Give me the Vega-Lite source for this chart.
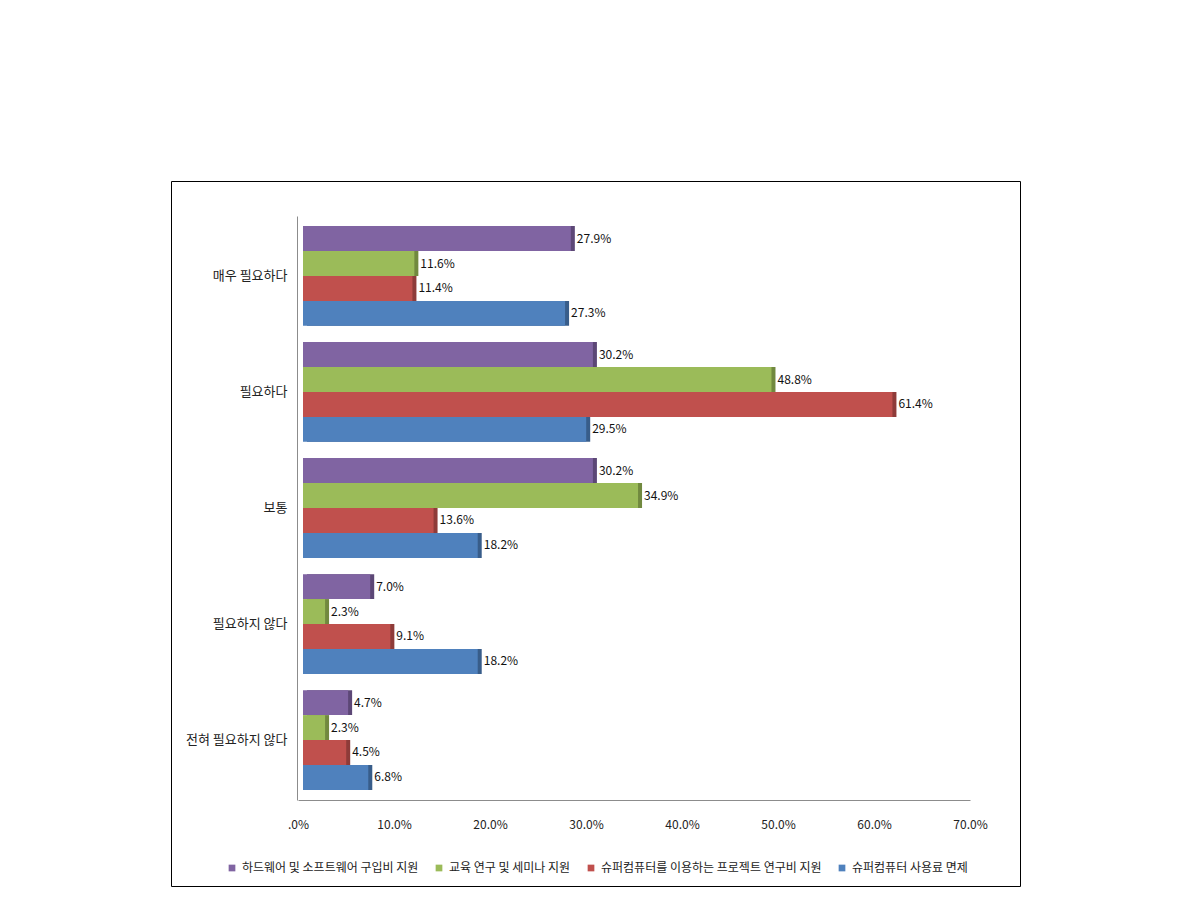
{
  "$schema": "https://vega.github.io/schema/vega-lite/v6.json",
  "width": 849,
  "height": 705,
  "autosize": {"type": "none"},
  "padding": {"left": 171, "top": 181, "right": 170, "bottom": 18},
  "background": "white",
  "config": {
    "view": {"stroke": "#000000", "strokeWidth": 1},
    "font": "Noto Sans CJK KR",
    "axis": {"labelFont": "Noto Sans CJK KR", "labelColor": "#222222", "grid": false, "ticks": false, "domainColor": "#8c8c8c", "title": null},
    "legend": {"labelFont": "Noto Sans CJK KR", "labelColor": "#222222"}
  },
  "data": {
    "values": [
      {"category": "매우 필요하다", "series": "하드웨어 및 소프트웨어 구입비 지원", "value": 27.9},
      {"category": "매우 필요하다", "series": "교육 연구 및 세미나 지원", "value": 11.6},
      {"category": "매우 필요하다", "series": "슈퍼컴퓨터를 이용하는 프로젝트 연구비 지원", "value": 11.4},
      {"category": "매우 필요하다", "series": "슈퍼컴퓨터 사용료 면제", "value": 27.3},
      {"category": "필요하다", "series": "하드웨어 및 소프트웨어 구입비 지원", "value": 30.2},
      {"category": "필요하다", "series": "교육 연구 및 세미나 지원", "value": 48.8},
      {"category": "필요하다", "series": "슈퍼컴퓨터를 이용하는 프로젝트 연구비 지원", "value": 61.4},
      {"category": "필요하다", "series": "슈퍼컴퓨터 사용료 면제", "value": 29.5},
      {"category": "보통", "series": "하드웨어 및 소프트웨어 구입비 지원", "value": 30.2},
      {"category": "보통", "series": "교육 연구 및 세미나 지원", "value": 34.9},
      {"category": "보통", "series": "슈퍼컴퓨터를 이용하는 프로젝트 연구비 지원", "value": 13.6},
      {"category": "보통", "series": "슈퍼컴퓨터 사용료 면제", "value": 18.2},
      {"category": "필요하지 않다", "series": "하드웨어 및 소프트웨어 구입비 지원", "value": 7.0},
      {"category": "필요하지 않다", "series": "교육 연구 및 세미나 지원", "value": 2.3},
      {"category": "필요하지 않다", "series": "슈퍼컴퓨터를 이용하는 프로젝트 연구비 지원", "value": 9.1},
      {"category": "필요하지 않다", "series": "슈퍼컴퓨터 사용료 면제", "value": 18.2},
      {"category": "전혀 필요하지 않다", "series": "하드웨어 및 소프트웨어 구입비 지원", "value": 4.7},
      {"category": "전혀 필요하지 않다", "series": "교육 연구 및 세미나 지원", "value": 2.3},
      {"category": "전혀 필요하지 않다", "series": "슈퍼컴퓨터를 이용하는 프로젝트 연구비 지원", "value": 4.5},
      {"category": "전혀 필요하지 않다", "series": "슈퍼컴퓨터 사용료 면제", "value": 6.8}
    ]
  },
  "transform": [
    {"calculate": "format(datum.value, '.1f') + '%'", "as": "label"}
  ],
  "encoding": {
    "y": {
      "field": "category",
      "type": "nominal",
      "sort": ["매우 필요하다", "필요하다", "보통", "필요하지 않다", "전혀 필요하지 않다"],
      "scale": {"range": [35, 619], "paddingInner": 0.14, "paddingOuter": 0.087},
      "axis": {"orient": "left", "offset": -126, "labelPadding": 10, "labelFontSize": 13}
    },
    "yOffset": {
      "field": "series",
      "type": "nominal",
      "sort": ["하드웨어 및 소프트웨어 구입비 지원", "교육 연구 및 세미나 지원", "슈퍼컴퓨터를 이용하는 프로젝트 연구비 지원", "슈퍼컴퓨터 사용료 면제"],
      "scale": {"paddingInner": 0, "paddingOuter": 0}
    },
    "x": {
      "field": "value",
      "type": "quantitative",
      "scale": {"domain": [0, 70], "range": [127, 799], "nice": false, "zero": true},
      "axis": {
        "orient": "bottom",
        "offset": -86,
        "values": [0, 10, 20, 30, 40, 50, 60, 70],
        "labelExpr": "datum.value == 0 ? '.0%' : format(datum.value, '.1f') + '%'",
        "labelFlush": false,
        "labelPadding": 19,
        "labelFontSize": 12
      }
    }
  },
  "layer": [
    {
      "mark": {"type": "bar", "xOffset": 9},
      "encoding": {
        "color": {
          "field": "series",
          "type": "nominal",
          "scale": {
            "domain": ["하드웨어 및 소프트웨어 구입비 지원", "교육 연구 및 세미나 지원", "슈퍼컴퓨터를 이용하는 프로젝트 연구비 지원", "슈퍼컴퓨터 사용료 면제"],
            "range": ["#5C4776", "#71893F", "#8E3B39", "#385D8A"]
          },
          "legend": null
        }
      }
    },
    {
      "mark": {"type": "bar", "xOffset": 5},
      "encoding": {
        "color": {
          "field": "series",
          "type": "nominal",
          "scale": {
            "domain": ["하드웨어 및 소프트웨어 구입비 지원", "교육 연구 및 세미나 지원", "슈퍼컴퓨터를 이용하는 프로젝트 연구비 지원", "슈퍼컴퓨터 사용료 면제"],
            "range": ["#8064A2", "#9BBB59", "#C0504D", "#4F81BD"]
          },
          "legend": {
            "orient": "none",
            "legendX": 55,
            "legendY": 681,
            "direction": "horizontal",
            "title": null,
            "symbolType": "square",
            "symbolSize": 45,
            "labelFontSize": 12,
            "labelLimit": 0,
            "columnPadding": 14,
            "labelOffset": 4
          }
        }
      }
    },
    {
      "mark": {"type": "text", "align": "left", "baseline": "middle", "dx": 11, "fontSize": 12, "color": "#111111"},
      "encoding": {
        "text": {"field": "label", "type": "nominal"}
      }
    }
  ],
  "resolve": {"scale": {"color": "independent"}}
}
